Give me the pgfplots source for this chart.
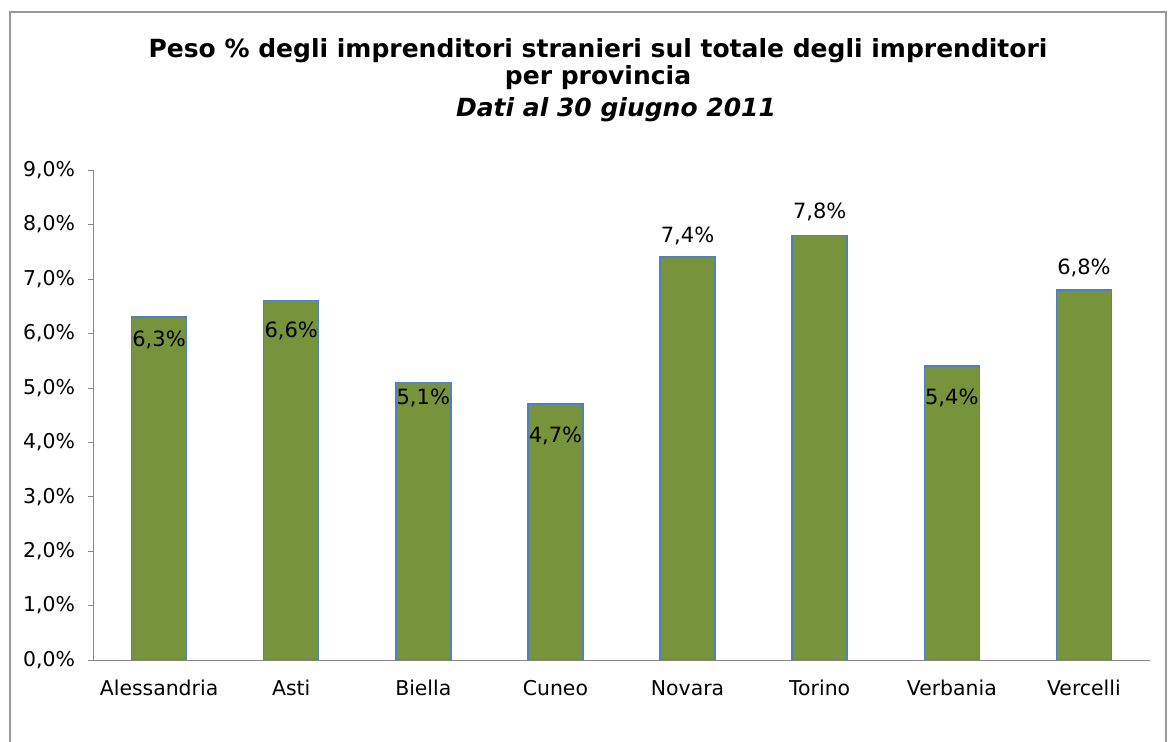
\documentclass[border=0pt]{standalone}
\usepackage{pgfplots}
\pgfplotsset{compat=1.18}
\usepackage{pgfplotstable}
\usepackage{fontspec}
\setmainfont{DejaVu Sans}
\definecolor{barg}{HTML}{77933C}
\definecolor{barb}{HTML}{4F81BD}
\definecolor{axg}{HTML}{868686}
\pgfplotstableread{
x y dy lab
0 6.3 -11.5 6,3
1 6.6 -15 6,6
2 5.1 -8 5,1
3 4.7 -16 4,7
4 7.4 10.5 7,4
5 7.8 11.5 7,8
6 5.4 -16 5,4
7 6.8 11 6,8
}\datatable
\begin{document}
\begin{tikzpicture}[x=0.5pt,y=0.5pt]
\useasboundingbox (0,0) rectangle (1169,742);
\draw[color=gray!80, line width=1pt] (10,-20) rectangle (1166,730);
\node[anchor=base, font=\bfseries\fontsize{12.5}{14}\selectfont] at (598,684) {Peso \% degli imprenditori stranieri sul totale degli imprenditori};
\node[anchor=base, font=\bfseries\fontsize{12.5}{14}\selectfont] at (598,657) {per provincia};
\node[anchor=base, font=\bfseries\itshape\fontsize{12.5}{14}\selectfont] at (616,625) {Dati al 30 giugno 2011};
\begin{axis}[
  at={(46.5pt,41pt)}, anchor=south west,
  scale only axis, width=528.5pt, height=245pt,
  xmin=-0.5, xmax=7.5, ymin=0, ymax=9,
  axis x line=bottom, axis y line=left,
  axis line style={draw=axg, -},
  xtick={0,...,7},
  xticklabels={Alessandria,Asti,Biella,Cuneo,Novara,Torino,Verbania,Vercelli},
  extra x ticks={-0.5,0.5,...,7.5}, extra x tick labels={},
  extra x tick style={major tick length=4pt, tick style={draw=axg}, xticklabel style={opacity=0}},
  major x tick style={draw=none},
  ytick={0,1,...,9},
  yticklabels={{0,0\%},{1,0\%},{2,0\%},{3,0\%},{4,0\%},{5,0\%},{6,0\%},{7,0\%},{8,0\%},{9,0\%}},
  ytick style={draw=axg},
  tick align=outside, major tick length=2.5pt,
  ticklabel style={font=\fontsize{10.2}{12}\selectfont},
  xticklabel style={yshift=-3pt, text height=1.6ex, text depth=0.3ex},
  yticklabel style={xshift=-3pt},
  /pgf/number format/assume math mode=true,
]
\addplot[ybar, bar width=27.5pt, fill=barg, draw=barb, line width=0.8pt,
  visualization depends on={\thisrow{dy} \as \dy},
  point meta=explicit symbolic,
  nodes near coords={\pgfplotspointmeta\%},
  nodes near coords style={anchor=center, yshift=\dy pt, font=\fontsize{10.5}{12}\selectfont, text=black}
] table[x=x, y=y, meta=lab] {\datatable};
\end{axis}
\end{tikzpicture}
\end{document}
